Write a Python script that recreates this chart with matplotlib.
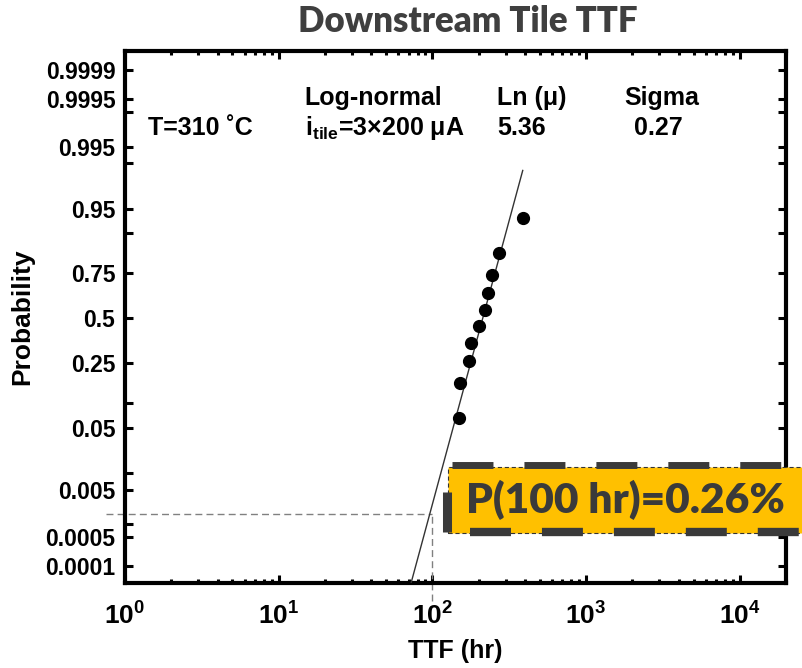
import numpy as np
import matplotlib
matplotlib.use("Agg")
import matplotlib.pyplot as plt
from matplotlib.patches import Rectangle
from matplotlib.lines import Line2D
from matplotlib.ticker import FixedLocator, FixedFormatter, LogLocator, NullFormatter
from statistics import NormalDist

plt.rcParams['font.family'] = ['Liberation Sans', 'DejaVu Sans']
plt.rcParams['font.weight'] = 'bold'
plt.rcParams['mathtext.fontset'] = 'custom'
plt.rcParams['mathtext.rm'] = 'Liberation Sans'
plt.rcParams['mathtext.bf'] = 'Liberation Sans:bold'
plt.rcParams['mathtext.it'] = 'Liberation Sans:bold'
plt.rcParams['lines.scale_dashes'] = False

# data
ttf_hr = [149, 152, 173, 179, 202, 221, 229, 246, 272, 387]
prob = [0.067, 0.163, 0.260, 0.356, 0.452, 0.548, 0.644, 0.740, 0.837, 0.933]

# log-normal fit from the legend
ln_mu = 5.36
sigma = 0.27

# dashed guide at 100 hr
t_check = 100
p_check = 0.0016

prob_ticks = [0.0001, 0.0005, 0.001, 0.005, 0.01, 0.05, 0.1, 0.25, 0.5,
              0.75, 0.9, 0.95, 0.99, 0.995, 0.999, 0.9995, 0.9999]
prob_labels = ['0.0001', '0.0005', '', '0.005', '', '0.05', '', '0.25', '0.5',
               '0.75', '', '0.95', '', '0.995', '', '0.9995', '0.9999']

nd = NormalDist()


def probit(p):
    return np.array([nd.inv_cdf(v) for v in np.atleast_1d(p)])


W, H = 803, 668


def fx(px):
    return px / W


def fy(py):
    return 1 - py / H


fig = plt.figure(figsize=(W / 100, H / 100), dpi=100)
ax = fig.add_axes([0.1557, 0.1272, 0.8232, 0.7964])

# fit line, from below the axes up to the last failure
t_line = np.logspace(np.log10(40), np.log10(max(ttf_hr)), 100)
z_line = (np.log(t_line) - ln_mu) / sigma
ax.plot(t_line, z_line, color='#333333', lw=1.0, zorder=3)

# data points
ax.plot(ttf_hr, probit(prob), 'o', color='black', ms=8.5, zorder=4)

# dashed guides at t = 100 hr
zc = probit(p_check)[0]
ax.plot([0.75, t_check], [zc, zc], ls=(0, (5, 3)), color='#808080', lw=1.0,
        clip_on=False, zorder=2)
ax.plot([t_check, t_check], [-4.25, zc], ls=(0, (5, 3)), color='#808080', lw=1.0,
        clip_on=False, zorder=2)

# axes
ax.set_xscale('log')
ax.set_xlim(1, 2e4)
ax.set_ylim(-3.98, 4.01)
ax.xaxis.set_major_locator(FixedLocator([1, 10, 100, 1000, 10000]))
ax.xaxis.set_minor_locator(LogLocator(base=10, subs=np.arange(2, 10), numticks=20))
ax.xaxis.set_minor_formatter(NullFormatter())
ax.yaxis.set_major_locator(FixedLocator(probit(prob_ticks)))
ax.yaxis.set_major_formatter(FixedFormatter(prob_labels))

for s in ax.spines.values():
    s.set_linewidth(3)
ax.tick_params(which='both', direction='in', top=True, right=True, width=2.2)
ax.tick_params(which='major', length=6)
ax.tick_params(which='minor', length=3)
ax.tick_params(axis='y', labelsize=16.5, pad=7)
ax.tick_params(axis='x', labelsize=19, pad=14)

ax.set_xlabel('TTF (hr)', fontsize=18, fontweight='bold', labelpad=7)
ax.set_ylabel('Probability', fontsize=19, fontweight='bold', labelpad=8)

# title
fig.text(fx(468), fy(22), 'Downstream Tile TTF', family=['Lato', 'DejaVu Sans'],
         fontweight='heavy', fontsize=25, color='#3f3f3f', ha='center', va='center')

# legend-like text block
txt = dict(transform=ax.transAxes, fontsize=18, fontweight='bold', va='center', ha='left')
ax.text(0.272, 0.912, 'Log-normal', **txt)
ax.text(0.563, 0.912, 'Ln (μ)', **txt)
ax.text(0.756, 0.912, 'Sigma', **txt)
ax.text(0.035, 0.855, 'T=310 ˚C', **txt)
ax.text(0.272, 0.855, r'$\mathbf{i_{tile}}$=3×200 μA', **txt)
ax.text(0.563, 0.855, '5.36', **txt)
ax.text(0.770, 0.855, '0.27', **txt)

# highlighted callout box
fig.patches.append(Rectangle((fx(448), fy(533)), fx(400), 66 / H,
                             transform=fig.transFigure, facecolor='#FFC000',
                             edgecolor='#333333', lw=0.8, ls=(0, (3, 2)), zorder=5))
dash = (0, (29.5, 22.3))
fig.add_artist(Line2D([fx(452), fx(830)], [fy(465), fy(465)], lw=5,
                      color='#3a3a3a', ls=dash, solid_capstyle='butt',
                      dash_capstyle='butt', zorder=6))
fig.add_artist(Line2D([fx(470), fx(830)], [fy(532), fy(532)], lw=6,
                      color='#3a3a3a', ls=dash, dash_capstyle='butt', zorder=6))
fig.add_artist(Line2D([fx(447), fx(447)], [fy(532), fy(492)], lw=6.5,
                      color='#3a3a3a', solid_capstyle='butt', zorder=6))
fig.text(fx(466), fy(500), 'P(100 hr)=0.26%', family=['Lato', 'DejaVu Sans'],
         fontweight='heavy', fontsize=30.5, color='#3a3a3a', ha='left', va='center',
         zorder=7)

fig.savefig('out.png', dpi=100)
